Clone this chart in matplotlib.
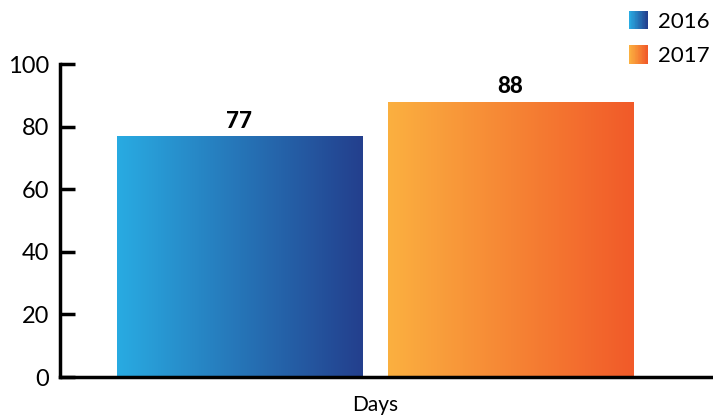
import matplotlib
matplotlib.use("Agg")
import matplotlib.pyplot as plt
import matplotlib.patches as mpatches
from matplotlib.colors import LinearSegmentedColormap
from matplotlib.legend_handler import HandlerBase
import numpy as np

plt.rcParams["font.family"] = ["Lato", "DejaVu Sans"]

category = "Days"
years = ["2016", "2017"]
values = [77, 88]
grad_colors = [("#29ABE2", "#233F8D"), ("#FBB040", "#F15A29")]

y_ticks = [0, 20, 40, 60, 80, 100]


class GradientHandler(HandlerBase):
    """Legend key filled with a left-to-right gradient built from thin strips."""

    def __init__(self, c0, c1, n=24):
        super().__init__()
        self.cmap = LinearSegmentedColormap.from_list("g", [c0, c1])
        self.n = n

    def create_artists(self, legend, orig_handle, xdescent, ydescent,
                       width, height, fontsize, trans):
        side = height * 1.2
        x0 = -xdescent + width - side
        y0 = -ydescent + (height - side) / 2
        arts = []
        w = side / self.n
        for i in range(self.n):
            arts.append(mpatches.Rectangle((x0 + i * w, y0), w * 1.05, side,
                                           facecolor=self.cmap(i / (self.n - 1)),
                                           edgecolor="none", transform=trans))
        return arts


fig = plt.figure(figsize=(7.13, 4.17), dpi=100)
ax = fig.add_axes([0.084, 0.0959, 0.916, 0.7506])

width = 0.4
offsets = [-0.2212, 0.2212]
bars = []
for off, val in zip(offsets, values):
    b = ax.bar(off, val, width=width, facecolor="none", edgecolor="none")
    bars.append(b)

# gradient fill clipped to each bar
grad = np.linspace(0, 1, 256).reshape(1, -1)
for b, (c0, c1) in zip(bars, grad_colors):
    patch = b.patches[0]
    x, y = patch.get_x(), patch.get_y()
    w, h = patch.get_width(), patch.get_height()
    cmap = LinearSegmentedColormap.from_list("bar", [c0, c1])
    im = ax.imshow(grad, cmap=cmap, aspect="auto", extent=[x, x + w, y, y + h],
                   zorder=2, interpolation="bicubic")
    im.set_clip_path(patch)
    ax.bar_label(b, labels=[f"{v}" for v in b.datavalues], padding=3,
                 fontsize=16, fontweight="black")

ax.set_xlim(-0.514, 0.552)
ax.set_ylim(0, 100)
ax.set_yticks(y_ticks)
ax.set_xticks([0])
ax.set_xticklabels([category])
ax.tick_params(axis="y", direction="in", length=11, width=2.5, labelsize=17, pad=8)
ax.tick_params(axis="x", length=0, labelsize=15, pad=13)

for s in ["top", "right"]:
    ax.spines[s].set_visible(False)
for s in ["left", "bottom"]:
    ax.spines[s].set_linewidth(2.5)

handles = [mpatches.Patch(label=y) for y in years]
fig.legend(handles=handles, labels=years,
           handler_map={h: GradientHandler(*c) for h, c in zip(handles, grad_colors)},
           loc="upper right", bbox_to_anchor=(0.995, 0.972), frameon=False,
           fontsize=16, handlelength=1.0, handletextpad=0.45, labelspacing=0.65,
           borderaxespad=0, borderpad=0)

fig.savefig("out.png", dpi=100)
